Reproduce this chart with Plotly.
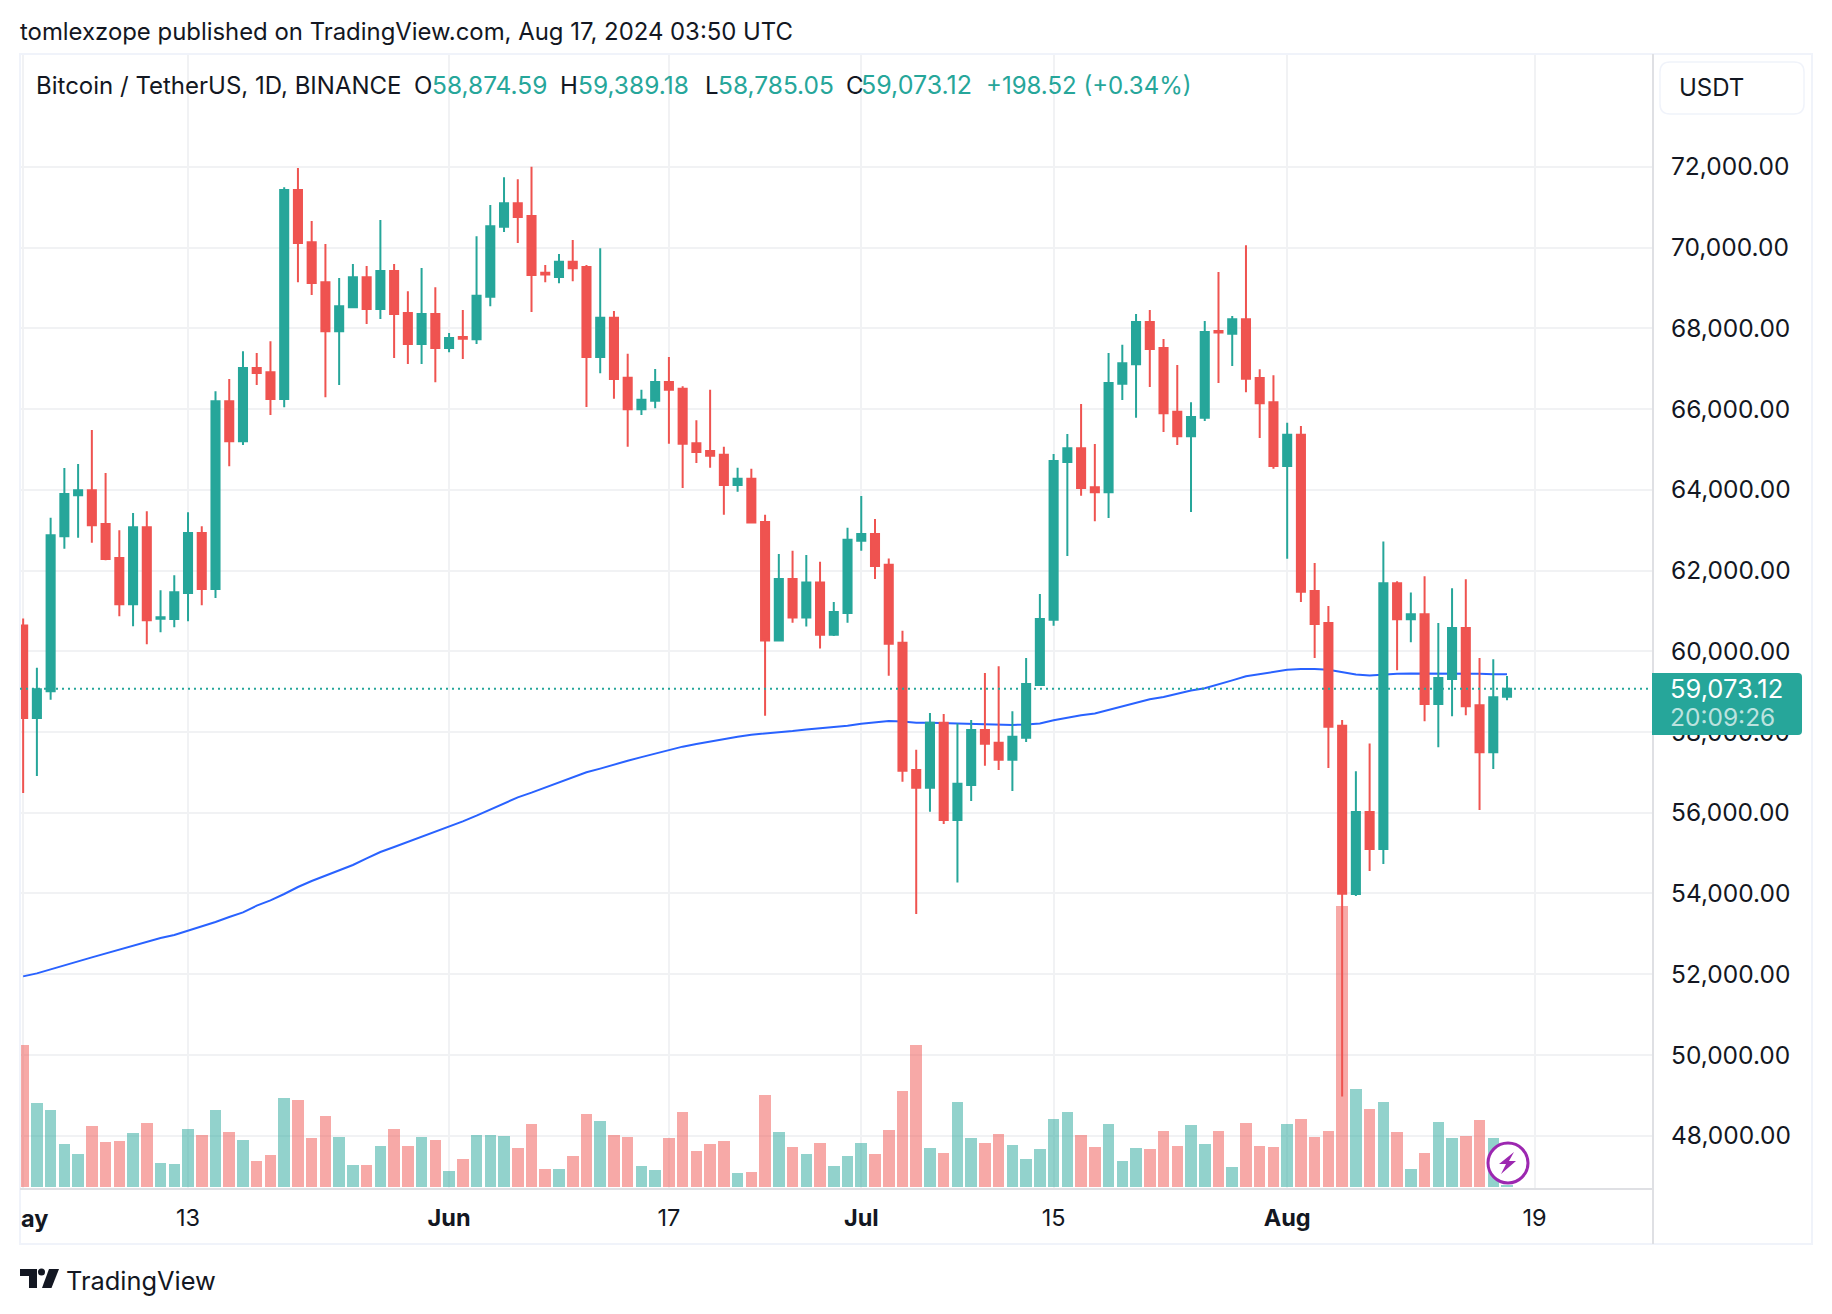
import pandas as pd
import plotly.graph_objects as go

# the page keeps the browser's 8px body margin, so page pixels are shifted by it
PAGE_MARGIN = 8
W, H = 1832 - 2 * PAGE_MARGIN, 1314 - 2 * PAGE_MARGIN
GREEN = '#26a69a'
RED = '#ef5350'
INK = '#131722'
GRID = '#f1f2f4'
FRAME = '#f0f3fa'
SCALE_LINE = '#dfe0e4'
FONT = 'Inter'

# daily candles, 2024-05-01 to 2024-08-17
dates = pd.date_range('2024-05-01', '2024-08-17', freq='D')

opens = [60636, 58346, 59010, 62849, 63867, 63991, 63150, 62309, 61167, 63070, 60805, 60796, 61442, 62929, 61539, 66194,
         65203, 67017, 66911, 66248, 71425, 70133, 69141, 67929, 68522, 69265, 68478, 69416, 68380, 67610, 68354, 67513,
         67782, 67730, 68778, 70512, 71094, 70784, 69373, 69270, 69645, 69516, 67290, 68260, 66772, 65996, 66203, 66669,
         66501, 65155, 64961, 64870, 64120, 64275, 63201, 60264, 61790, 60833, 61700, 60406, 60949, 62735, 62903, 62140,
         60212, 57061, 56617, 58232, 55822, 56686, 58050, 57732, 57311, 57857, 59164, 60779, 64690, 65031, 64065, 63940,
         66623, 67112, 68158, 67510, 65930, 65327, 65782, 67931, 67862, 68226, 66771, 66168, 64588, 65361, 61495, 60699,
         58153, 53989, 56018, 55103, 61687, 60794, 60918, 58691, 59310, 60573, 58665, 57498, 58874.59]
highs = [60810, 59592, 63309, 64540, 64637, 65478, 64416, 63000, 63424, 63469, 61513, 61884, 63442, 63097, 66442, 66743,
         67433, 67389, 67681, 71496, 71973, 70655, 70088, 69248, 69593, 69540, 70681, 69593, 68920, 69496, 69018, 67885,
         68454, 70279, 71055, 71741, 71689, 72000, 69567, 69839, 70188, 69567, 69981, 68429, 67367, 66475, 66992, 67290,
         66565, 65724, 66475, 65064, 64547, 64521, 63382, 62411, 62489, 62386, 62217, 61221, 63058, 63848, 63279, 62295,
         60509, 57561, 58471, 58448, 58210, 58300, 59460, 59630, 58516, 59835, 61416, 64883, 65384, 66123, 65134, 67385,
         67590, 68351, 68454, 67737, 67089, 66168, 68181, 69397, 68306, 70057, 66987, 66839, 65657, 65577, 62189, 61120,
         58300, 57029, 57717, 62721, 61731, 61457, 61855, 60697, 61563, 61784, 59831, 59805, 59389.18]
lows = [56490, 56911, 58800, 62540, 62813, 62690, 62256, 60867, 60619, 60176, 60469, 60592, 60743, 61141, 61318, 64584,
        65106, 66593, 65849, 66044, 69141, 68823, 66292, 66593, 68504, 68106, 68230, 67265, 67115, 67115, 66664, 67407,
        67238, 67613, 68545, 70383, 70111, 68403, 69140, 69114, 69166, 66048, 66889, 66254, 65064, 65854, 66022, 65142,
        64042, 64663, 64547, 63382, 63951, 63188, 58400, 60264, 60703, 60613, 60069, 60380, 60703, 62489, 61790, 59396,
        56770, 53491, 56026, 55719, 54275, 56288, 57163, 57061, 56538, 57754, 59164, 60631, 62359, 63849, 63223, 63303,
        66225, 65782, 66544, 65429, 65111, 63451, 65702, 66646, 67067, 66418, 65281, 64520, 62291, 61222, 59835, 57106,
        48970, 53936, 54555, 54731, 59531, 60220, 58267, 57622, 58390, 58417, 56070, 57082, 58785.05]
closes = [58346, 59057, 62876, 63893, 63991, 63123, 62283, 61167, 63070, 60769, 60840, 61460, 62929, 61539, 66194, 65203,
          67017, 66893, 66248, 71425, 70115, 69124, 67929, 68548, 69265, 68478, 69416, 68354, 67610, 68354, 67513, 67761,
          67743, 68804, 70525, 71094, 70758, 69321, 69334, 69645, 69490, 67290, 68260, 66746, 65996, 66229, 66669, 66475,
          65142, 64935, 64844, 64120, 64275, 63188, 60264, 61790, 60833, 61700, 60406, 60975, 62761, 62903, 62114, 60186,
          57041, 56617, 58232, 55822, 56720, 58050, 57709, 57311, 57880, 59187, 60802, 64713, 65031, 64042, 63940, 66646,
          67135, 68158, 67487, 65895, 65327, 65804, 67908, 67897, 68226, 66748, 66146, 64588, 65361, 61472, 60677, 58130,
          53991, 56018, 55103, 61687, 60794, 60918, 58691, 59336, 60573, 58638, 57498, 58859, 59073.12]

# bar heights read off the volume pane, arbitrary units (the pane has no scale)
volumes = [425, 251, 230, 128, 98, 182, 134, 137, 161, 191, 71, 68, 173, 155, 230, 164,
           140, 77, 95, 266, 260, 146, 212, 149, 65, 65, 122, 173, 122, 149, 140, 47,
           83, 155, 155, 152, 116, 188, 53, 53, 92, 218, 197, 155, 149, 62, 50, 146,
           224, 107, 128, 137, 41, 44, 275, 164, 119, 98, 131, 62, 92, 131, 98, 170,
           287, 425, 116, 101, 254, 146, 131, 158, 125, 83, 113, 203, 224, 155, 119, 188,
           77, 116, 113, 167, 122, 185, 128, 167, 59, 191, 122, 119, 188, 203, 149, 167,
           843, 293, 233, 254, 164, 53, 101, 194, 146, 152, 200, 146, 4]

ma_values = [51947, 52021, 52120, 52211, 52318, 52418, 52517, 52599, 52707, 52797, 52897, 52971, 53078, 53169, 53293, 53417,
             53532, 53698, 53830, 53987, 54160, 54309, 54441, 54565, 54705, 54870, 55027, 55151, 55275, 55407, 55523, 55657,
             55786, 55928, 56083, 56239, 56381, 56498, 56627, 56744, 56873, 57003, 57093, 57197, 57287, 57378, 57469, 57559,
             57637, 57701, 57766, 57831, 57882, 57934, 57960, 57986, 58025, 58064, 58090, 58116, 58154, 58206, 58245, 58271,
             58258, 58232, 58232, 58221, 58210, 58198, 58187, 58180, 58175, 58187, 58210, 58289, 58357, 58414, 58460, 58550,
             58641, 58733, 58812, 58869, 58948, 59028, 59085, 59176, 59278, 59380, 59437, 59483, 59540, 59562, 59562, 59540,
             59475, 59425, 59398, 59425, 59442, 59451, 59451, 59451, 59460, 59460, 59442, 59433, 59433]

price_ticks = [48000, 50000, 52000, 54000, 56000, 58000, 60000, 62000, 64000, 66000, 68000, 70000, 72000]
date_ticks = ['2024-05-01', '2024-05-13', '2024-06-01', '2024-06-17', '2024-07-01', '2024-07-15', '2024-08-01', '2024-08-19']
date_labels = ['', '13', '<b>Jun</b>', '17', '<b>Jul</b>', '15', '<b>Aug</b>', '19']
last_close = 59073.12

legend_pieces = [('Bitcoin / TetherUS, 1D, BINANCE', 36, INK, 24), ('O', 414, INK, 24), ('58,874.59', 432, GREEN, 24.5),
                 ('H', 560, INK, 24), ('59,389.18', 578, GREEN, 24.5), ('L', 705, INK, 24), ('58,785.05', 718, GREEN, 24.5),
                 ('C', 846, INK, 24), ('59,073.12', 861, GREEN, 25), ('+198.52 (+0.34%)', 986, GREEN, 24)]


def fx(px):
    return (px - PAGE_MARGIN) / W


def fy(py):
    return 1 - (py - PAGE_MARGIN) / H


def path(points, close=True):
    # polygon in page pixels, as a paper referenced svg path
    s = 'M ' + ' L '.join('%.5f,%.5f' % (fx(x), fy(y)) for x, y in points)
    return s + (' Z' if close else '')


def round_rect(x0, y0, x1, y1, r_left, r_right):
    def p(x, y):
        return '%.5f,%.5f' % (fx(x), fy(y))
    return ('M ' + p(x0 + r_left, y0) + ' L ' + p(x1 - r_right, y0) + ' Q ' + p(x1, y0) + ' ' + p(x1, y0 + r_right)
            + ' L ' + p(x1, y1 - r_right) + ' Q ' + p(x1, y1) + ' ' + p(x1 - r_right, y1)
            + ' L ' + p(x0 + r_left, y1) + ' Q ' + p(x0, y1) + ' ' + p(x0, y1 - r_left)
            + ' L ' + p(x0, y0 + r_left) + ' Q ' + p(x0, y0) + ' ' + p(x0 + r_left, y0) + ' Z')


def label(text, x, y, size=24, color=INK, anchor='left'):
    # annotations sit about 2px right of the given x because of their padding
    fig.add_annotation(text=text, x=fx(x - 2), y=fy(y), xref='paper', yref='paper', xanchor=anchor, yanchor='middle',
                       showarrow=False, font=dict(family=FONT, size=size, color=color))


fig = go.Figure()

vol_colors = ['rgba(38,166,154,0.5)' if c >= o else 'rgba(239,83,80,0.5)' for o, c in zip(opens, closes)]
fig.add_trace(go.Bar(x=dates, y=volumes, width=0.84 * 86400000, marker=dict(color=vol_colors, line=dict(width=0)),
                     yaxis='y', showlegend=False))
fig.add_trace(go.Scatter(x=dates, y=ma_values, mode='lines', line=dict(color='#2962ff', width=2),
                         yaxis='y2', showlegend=False))
fig.add_trace(go.Candlestick(x=dates, open=opens, high=highs, low=lows, close=closes, yaxis='y3', showlegend=False,
                             increasing=dict(line=dict(color=GREEN, width=2), fillcolor=GREEN),
                             decreasing=dict(line=dict(color=RED, width=2), fillcolor=RED)))

price_range = [46680, 74794]
y_domain = [fy(1189), fy(54)]

fig.update_layout(
    width=W, height=H, autosize=False, margin=dict(l=0, r=0, t=0, b=0),
    paper_bgcolor='white', plot_bgcolor='white', showlegend=False, bargap=0, boxgap=0.3, boxgroupgap=0.16,
    font=dict(family=FONT, size=24, color=INK),
    xaxis=dict(domain=[fx(20), fx(1653)], type='date', range=['2024-04-30 18:30', '2024-08-27 15:00'],
               rangeslider=dict(visible=False), tickmode='array', tickvals=date_ticks, ticktext=date_labels,
               showgrid=True, gridcolor=GRID, gridwidth=2, showline=False, ticks='', ticklabelstandoff=12,
               tickfont=dict(family=FONT, size=23.5, color=INK), zeroline=False),
    yaxis=dict(domain=y_domain, range=[-7, 3398], visible=False),
    yaxis2=dict(domain=y_domain, overlaying='y', range=price_range, visible=False),
    yaxis3=dict(domain=y_domain, overlaying='y', side='right', anchor='x', range=price_range, tickmode='array',
                tickvals=price_ticks, tickformat=',.2f', showgrid=True, gridcolor=GRID, gridwidth=2,
                showline=False, ticks='', ticklabelstandoff=17, zeroline=False,
                tickfont=dict(family=FONT, size=24.5, color=INK)),
)

# frame and scale separators
fig.add_shape(type='rect', xref='paper', yref='paper', x0=fx(20), x1=fx(1812), y0=fy(54), y1=fy(1244),
              line=dict(color=FRAME, width=2))
fig.add_shape(type='line', xref='paper', yref='paper', x0=fx(1653), x1=fx(1653), y0=fy(54), y1=fy(1244),
              line=dict(color=SCALE_LINE, width=2))
fig.add_shape(type='line', xref='paper', yref='paper', x0=fx(20), x1=fx(1653), y0=fy(1189), y1=fy(1189),
              line=dict(color=SCALE_LINE, width=2))

# last price line and its label
fig.add_shape(type='line', xref='paper', yref='y3', x0=fx(20), x1=fx(1653), y0=last_close, y1=last_close,
              line=dict(color=GREEN, width=2, dash='2px,4px'))
fig.add_shape(type='path', xref='paper', yref='paper', path=round_rect(1652, 673, 1802, 735, 0.1, 4),
              fillcolor=GREEN, line=dict(width=0))
label('59,073.12', 1670, 688.5, size=25.5, color='white')
label('20:09:26', 1670, 716.5, size=24.5, color='rgba(255,255,255,0.7)')

# currency button
fig.add_shape(type='path', xref='paper', yref='paper', path=round_rect(1660, 62, 1804, 114, 10, 10),
              fillcolor='white', line=dict(color=FRAME, width=1.5))
label('USDT', 1679, 87.5)

# lightning badge
fig.add_shape(type='circle', xref='paper', yref='paper', x0=fx(1488), x1=fx(1528), y0=fy(1143), y1=fy(1183),
              fillcolor='white', line=dict(color='#9c27b0', width=3))
fig.add_shape(type='path', xref='paper', yref='paper', fillcolor='#9c27b0', line=dict(width=0),
              path=path([(1514, 1152), (1499, 1164), (1506, 1164), (1501, 1174), (1516, 1161), (1509, 1161)]))

# header, legend, clipped month label
label('tomlexzope published on TradingView.com, Aug 17, 2024 03:50 UTC', 20, 32, size=23.9)
for text, x, color, size in legend_pieces:
    label(text, x, 85.5, size=size, color=color)
label('<b>ay</b>', 21, 1218, size=23.5)

# logo
fig.add_shape(type='path', xref='paper', yref='paper', fillcolor=INK, line=dict(width=0),
              path=path([(20, 1269), (37, 1269), (37, 1288), (29, 1288), (29, 1276), (20, 1276)]))
fig.add_shape(type='circle', xref='paper', yref='paper', fillcolor=INK, line=dict(width=0),
              x0=fx(38), x1=fx(45), y0=fy(1268.5), y1=fy(1275.5))
fig.add_shape(type='path', xref='paper', yref='paper', fillcolor=INK, line=dict(width=0),
              path=path([(49, 1269), (59, 1269), (51.5, 1288), (42, 1288)]))
label('TradingView', 66, 1280, size=25.4)

fig.write_html('out.html')
